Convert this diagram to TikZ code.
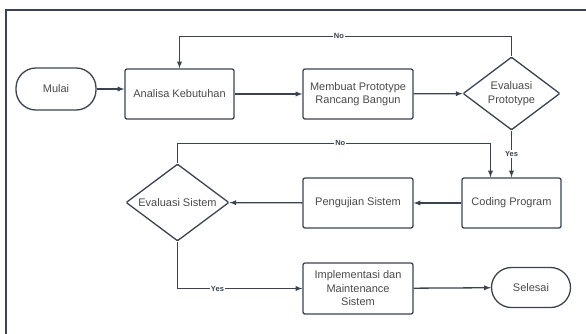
\documentclass[tikz,border=0pt]{standalone}
\usepackage{fontspec}
\setmainfont{Liberation Sans}
\usetikzlibrary{shapes.geometric}
\definecolor{linegray}{HTML}{3B4350}
\definecolor{txtgray}{HTML}{4A4A4A}
\begin{document}
\begin{tikzpicture}[x=1pt,y=-1pt,
  box/.style={draw=linegray,line width=1.3pt,rounded corners=2pt,text=txtgray,align=center,
    font=\fontsize{11}{13.5}\selectfont,inner sep=0pt},
  term/.style={box,rounded corners=20pt},
  decide/.style={box,diamond,rounded corners=1pt,aspect=1.33},
  conn/.style={draw=linegray,line width=1.3pt,-latex},
  lbl/.style={fill=white,inner sep=1pt,font=\bfseries\fontsize{7.5}{9}\selectfont,text=linegray}]

\useasboundingbox (0,0) rectangle (586,333);
\begin{scope}
\clip (0,0) rectangle (586,333);
\draw[linegray,line width=2.2pt] (6,360)--(6,10)--(600,10);
\end{scope}

\node[term,minimum width=80,minimum height=42] (mulai) at (56,89) {Mulai};
\node[box,minimum width=109,minimum height=50] (analisa) at (179.5,94) {Analisa Kebutuhan};
\node[box,minimum width=110,minimum height=50] (membuat) at (358,94) {Membuat Prototype\\Rancang Bangun};
\node[decide,minimum width=97,minimum height=73] (evproto) at (511.5,93.5) {Evaluasi\\Prototype};

\node[box,minimum width=99,minimum height=50] (coding) at (511.5,203) {Coding Program};
\node[box,minimum width=110,minimum height=50] (uji) at (358,203) {Pengujian Sistem};
\node[decide,minimum width=103,minimum height=77] (evsis) at (177.5,202.5) {Evaluasi Sistem};

\node[box,minimum width=110,minimum height=51] (impl) at (358,288.5) {Implementasi dan\\Maintenance\\Sistem};
\node[term,minimum width=79,minimum height=40] (selesai) at (531,287.5) {Selesai};

%
\draw[conn] (mulai.east)--(mulai.east -| analisa.west);
\draw[conn] (analisa)--(membuat);
\draw[conn] (membuat)--(evproto);
\draw[conn] (evproto.north)--++(0,-20) -| (analisa.north) node[lbl,pos=0.26]{No};
\draw[conn] (evproto.south)--(coding.north) node[lbl,pos=0.5]{Yes};

\draw[conn] (coding)--(uji);
\draw[conn] (uji)--(evsis);
\draw[conn] (evsis.north)--++(0,-20) -| ([xshift=-21pt]coding.north) node[lbl,pos=0.26]{No};
\draw[conn] (evsis.south) |- (impl.west) node[lbl,pos=0.66]{Yes};
\draw[conn] (impl)--(selesai);
\end{tikzpicture}
\end{document}
